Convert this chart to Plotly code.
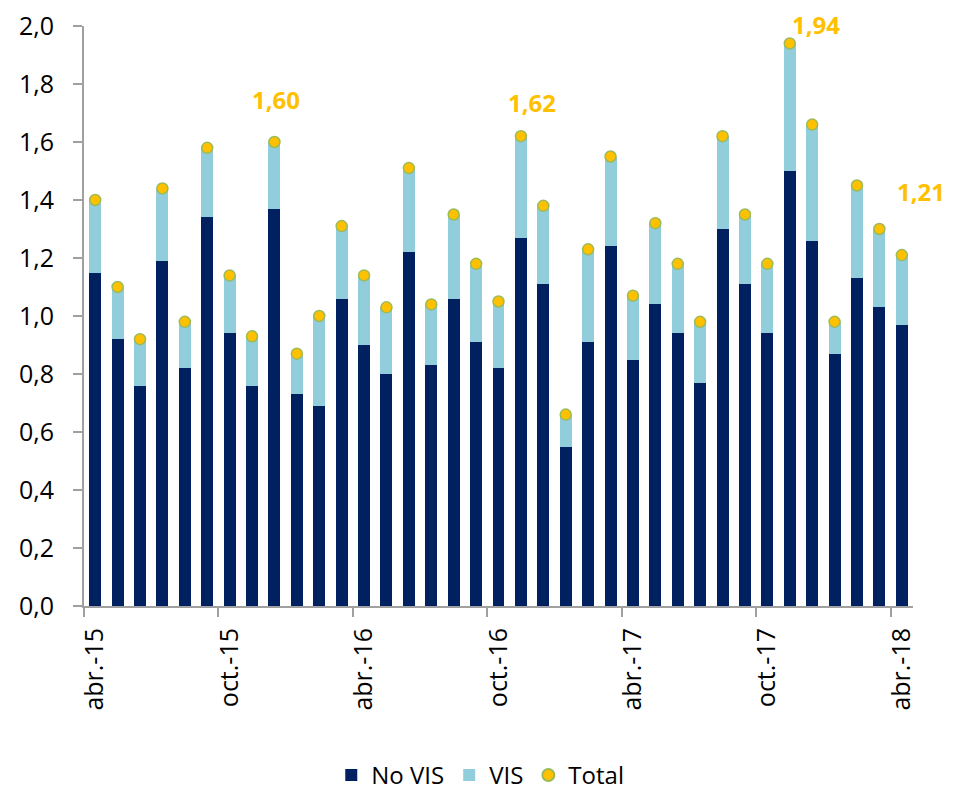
import plotly.graph_objects as go

months = ["abr.-15","may.-15","jun.-15","jul.-15","ago.-15","sep.-15","oct.-15","nov.-15","dic.-15",
          "ene.-16","feb.-16","mar.-16","abr.-16","may.-16","jun.-16","jul.-16","ago.-16","sep.-16",
          "oct.-16","nov.-16","dic.-16","ene.-17","feb.-17","mar.-17","abr.-17","may.-17","jun.-17",
          "jul.-17","ago.-17","sep.-17","oct.-17","nov.-17","dic.-17","ene.-18","feb.-18","mar.-18","abr.-18"]

no_vis = [1.15, 0.92, 0.76, 1.19, 0.82, 1.34, 0.94, 0.76, 1.37,
          0.73, 0.69, 1.06, 0.90, 0.80, 1.22, 0.83, 1.06, 0.91,
          0.82, 1.27, 1.11, 0.55, 0.91, 1.24, 0.85, 1.04, 0.94,
          0.77, 1.30, 1.11, 0.94, 1.50, 1.26, 0.87, 1.13, 1.03, 0.97]

vis = [0.25, 0.18, 0.16, 0.25, 0.16, 0.24, 0.20, 0.17, 0.23,
       0.14, 0.31, 0.25, 0.24, 0.23, 0.29, 0.21, 0.29, 0.27,
       0.23, 0.35, 0.27, 0.11, 0.32, 0.31, 0.22, 0.28, 0.24,
       0.21, 0.32, 0.24, 0.24, 0.44, 0.40, 0.11, 0.32, 0.27, 0.24]

total = [round(a + b, 2) for a, b in zip(no_vis, vis)]

tick_labels = ["abr.-15", "oct.-15", "abr.-16", "oct.-16", "abr.-17", "oct.-17", "abr.-18"]

# highlighted totals: (index, text)
highlights = [(8, "1,60"), (19, "1,62"), (31, "1,94"), (36, "1,21")]

FONT = "Open Sans"
GREY = "#A0A0A0"
x = list(range(len(months)))
n_ticks = len(tick_labels)

fig = go.Figure()
fig.add_trace(go.Bar(x=x, y=no_vis, name="No VIS", marker=dict(color="#002060", line=dict(width=0)),
                     hovertext=months))
fig.add_trace(go.Bar(x=x, y=vis, name="VIS", marker=dict(color="#92CDDC", line=dict(width=0)),
                     hovertext=months))
fig.add_trace(go.Scatter(x=x, y=total, name="Total", mode="markers", cliponaxis=False,
                         marker=dict(color="#FFC000", size=11, line=dict(color="#9BBB59", width=1.5)),
                         hovertext=months))
# invisible companion trace so the tick-mark axis (x2, ticks between categories) is drawn
fig.add_trace(go.Scatter(x=x, y=total, xaxis="x2", mode="markers", showlegend=False,
                         marker=dict(opacity=0), hoverinfo="skip"))

# pixel shifts of the labels relative to their dots
label_shifts = {8: (2, 43), 19: (11, 34), 31: (26, 19), 36: (19, 64)}
for idx, txt in highlights:
    sx, sy = label_shifts[idx]
    fig.add_annotation(x=idx, y=total[idx], text=txt, showarrow=False,
                       xref="x", yref="y", xshift=sx, yshift=sy,
                       font=dict(family=FONT, size=24, color="#FFC000", weight="bold"))

# page body has an 8px margin, so the figure is sized to fit the 953x792 window
fig.update_layout(
    width=945, height=784,
    barmode="stack", bargap=0.465,
    plot_bgcolor="white", paper_bgcolor="white",
    margin=dict(l=76, r=40, t=18, b=186, autoexpand=False),
    font=dict(family=FONT, size=25, color="#000000"),
    showlegend=True,
    legend=dict(orientation="h", x=0.478, xanchor="center", y=-0.292, yanchor="middle",
                font=dict(family=FONT, size=24), itemsizing="constant", traceorder="normal"),
    xaxis=dict(
        automargin=False,
        range=[-0.5, len(months) - 0.5],
        tickmode="array",
        tickvals=[i * 6 for i in range(n_ticks)],
        ticktext=tick_labels,
        tickangle=-90,
        ticks="outside", ticklen=10, tickcolor="rgba(0,0,0,0)",
        showline=True, linecolor=GREY, linewidth=2,
        showgrid=False, zeroline=False,
        ticklabeloverflow="allow",
        tickfont=dict(family=FONT, size=25),
    ),
    xaxis2=dict(
        overlaying="x", side="bottom", anchor="y",
        automargin=False,
        range=[-0.5, len(months) - 0.5],
        tickmode="array",
        tickvals=[i * 6 - 0.5 for i in range(n_ticks)],
        showticklabels=False,
        ticks="outside", ticklen=10, tickcolor=GREY, tickwidth=2,
        showline=False, showgrid=False, zeroline=False,
    ),
    yaxis=dict(
        automargin=False,
        range=[0, 2.0],
        tickmode="array",
        tickvals=[i * 0.2 for i in range(11)],
        ticktext=[f"{i*0.2:.1f}".replace(".", ",") for i in range(11)],
        ticks="outside", ticklen=9, tickcolor=GREY, tickwidth=2,
        showline=True, linecolor=GREY, linewidth=2,
        showgrid=False, zeroline=False,
        ticklabeloverflow="allow",
        ticklabelstandoff=14,
        tickfont=dict(family=FONT, size=25),
    ),
)

fig.write_html("out.html")
